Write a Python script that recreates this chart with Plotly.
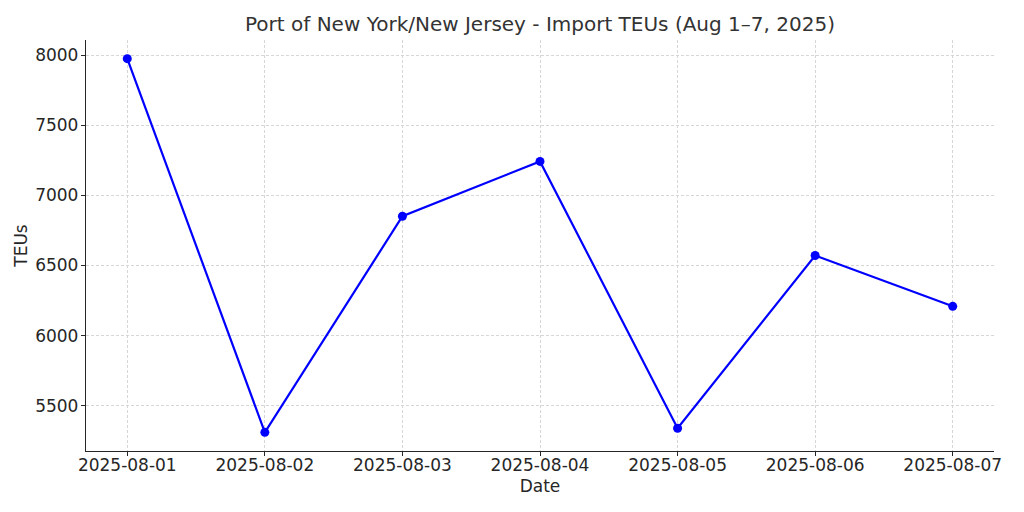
import plotly.graph_objects as go
import pandas as pd

dates = ["2025-08-01", "2025-08-02", "2025-08-03", "2025-08-04",
         "2025-08-05", "2025-08-06", "2025-08-07"]
teus = [7974, 5311, 6851, 7242, 5340, 6571, 6209]
y_ticks = [5500, 6000, 6500, 7000, 7500, 8000]

x = pd.to_datetime(dates)
span = x[-1] - x[0]
xr = [x[0] - span * 0.05, x[-1] + span * 0.05]
ymin, ymax = min(teus), max(teus)
yr = [ymin - (ymax - ymin) * 0.05, ymax + (ymax - ymin) * 0.05]

font = "DejaVu Sans"
fig = go.Figure(go.Scatter(
    x=x, y=teus, mode="lines+markers",
    line=dict(color="#0000ff", width=2.2),
    marker=dict(color="#0000ff", size=9),
))

fig.update_layout(
    width=1024, height=512,
    paper_bgcolor="white", plot_bgcolor="white",
    margin=dict(l=86, r=30, t=40, b=61),
    showlegend=False,
    title=dict(text="Port of New York/New Jersey - Import TEUs (Aug 1–7, 2025)",
               x=(86 + 994) / 2 / 1024, xanchor="center", y=1 - 24 / 512, yanchor="middle",
               font=dict(family=font, size=20, color="#333333")),
    font=dict(family=font, size=17, color="#262626"),
)
grid = dict(showgrid=True, gridcolor="#d6d6d6", griddash="3px,2px", gridwidth=1)
fig.update_xaxes(
    type="date", range=xr, tickvals=x, tickformat="%Y-%m-%d",
    showline=True, linecolor="#262626", linewidth=1.3, mirror=False,
    ticks="outside", ticklen=4, tickcolor="#262626", ticklabelstandoff=-6,
    zeroline=False, **grid,
    title=dict(text="Date", font=dict(family=font, size=17, color="#262626"), standoff=6),
    tickfont=dict(family=font, size=17, color="#262626"),
)
fig.update_yaxes(
    range=yr, tickvals=y_ticks,
    showline=True, linecolor="#262626", linewidth=1.3, mirror=False,
    ticks="outside", ticklen=4, tickcolor="#262626", ticklabelstandoff=-1,
    zeroline=False, **grid,
    title=dict(text="TEUs", font=dict(family=font, size=17, color="#262626"), standoff=3),
    tickfont=dict(family=font, size=17, color="#262626"),
)
fig.write_html("out.html", config={"displayModeBar": False},
               post_script="document.body.style.margin='0';document.body.style.padding='0';")
